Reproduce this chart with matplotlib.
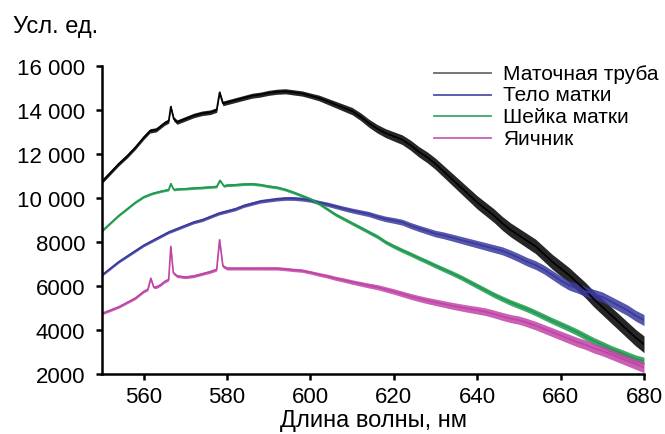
import matplotlib
matplotlib.use("Agg")
import matplotlib.pyplot as plt
import numpy as np
from matplotlib.lines import Line2D
from matplotlib.ticker import FuncFormatter

plt.rcParams['font.family'] = ['Liberation Sans', 'DejaVu Sans']

series_names = ["Маточная труба", "Тело матки", "Шейка матки", "Яичник"]
series_colors = ["#000000", "#3a3a9c", "#1f9a4f", "#c044a6"]
legend_colors = ["#6a6a6a", "#5050a8", "#3aa868", "#c860b2"]

wl_tube = [550, 552, 554, 556, 558, 560, 561.5, 563, 565, 566.0, 566.5, 567.2, 568, 570,
           572, 574, 576, 577.5, 578.2, 579, 580, 582, 584, 586, 588, 590, 592, 594,
           596, 598, 600, 602, 604, 606, 608, 610, 612, 614, 616, 618, 620, 622, 624,
           626, 628, 630, 632, 634, 636, 638, 640, 642, 644, 646, 648, 650, 652, 654,
           656, 658, 660, 662, 664, 666, 668, 670, 672, 674, 676, 678, 680]
val_tube = [10750, 11150, 11550, 11900, 12300, 12750, 13050, 13100, 13400, 13500, 14150,
            13600, 13450, 13600, 13750, 13850, 13900, 14000, 14800, 14300, 14350, 14450,
            14550, 14650, 14700, 14780, 14830, 14850, 14800, 14750, 14650, 14550, 14400,
            14250, 14100, 13950, 13700, 13400, 13150, 12950, 12800, 12650, 12400, 12100,
            11850, 11550, 11200, 10850, 10500, 10150, 9800, 9500, 9200, 8850, 8550, 8300,
            8050, 7800, 7450, 7100, 6800, 6500, 6150, 5800, 5400, 5050, 4700, 4350, 4000,
            3650, 3350]

wl_body = list(range(550, 682, 2))
val_body = [6500, 6800, 7100, 7350, 7600, 7850, 8050, 8250, 8450, 8600, 8750, 8900, 9000,
            9150, 9300, 9400, 9500, 9650, 9750, 9850, 9900, 9950, 9980, 9980, 9950, 9900,
            9800, 9720, 9620, 9520, 9430, 9350, 9270, 9150, 9050, 8980, 8900, 8750, 8620,
            8500, 8380, 8300, 8200, 8100, 8000, 7900, 7800, 7700, 7600, 7450, 7280, 7100,
            6950, 6750, 6500, 6250, 6030, 5900, 5750, 5620, 5500, 5300, 5100, 4900, 4650,
            4450]

wl_cervix = [550, 552, 554, 556, 558, 560, 562, 564, 566, 566.5, 567.2, 568, 570, 572, 574,
             576, 577.5, 578.3, 579.2, 580, 582, 584, 586, 588, 590, 592, 594, 596, 598,
             600, 602, 604, 606, 608, 610, 612, 614, 616, 618, 620, 622, 624, 626, 628,
             630, 632, 634, 636, 638, 640, 642, 644, 646, 648, 650, 652, 654, 656, 658,
             660, 662, 664, 666, 668, 670, 672, 674, 676, 678, 680]
val_cervix = [8500, 8850, 9200, 9500, 9800, 10050, 10200, 10300, 10380, 10650, 10380, 10400,
              10420, 10450, 10470, 10500, 10520, 10800, 10550, 10580, 10600, 10630, 10640,
              10600, 10530, 10480, 10380, 10250, 10100, 9950, 9750, 9500, 9250, 9050, 8850,
              8650, 8450, 8250, 8000, 7800, 7620, 7450, 7270, 7100, 6920, 6750, 6580, 6400,
              6200, 6000, 5800, 5600, 5420, 5250, 5100, 4950, 4780, 4600, 4420, 4250, 4080,
              3900, 3700, 3500, 3330, 3150, 3000, 2850, 2700, 2600]

wl_ovary = [550, 552, 554, 556, 558, 560, 561.0, 561.7, 562.4, 563, 564, 565, 566.0, 566.5,
            567.1, 568, 570, 572, 574, 576, 577.5, 578.2, 579, 580, 582, 584, 586, 588, 590,
            592, 594, 596, 598, 600, 602, 604, 606, 608, 610, 612, 614, 616, 618, 620, 622,
            624, 626, 628, 630, 632, 634, 636, 638, 640, 642, 644, 646, 648, 650, 652, 654,
            656, 658, 660, 662, 664, 666, 668, 670, 672, 674, 676, 678, 680]
val_ovary = [4750, 4900, 5050, 5250, 5450, 5750, 5850, 6350, 5950, 5950, 6050, 6200, 6300,
             7800, 6600, 6450, 6400, 6450, 6550, 6650, 6750, 8100, 6900, 6800, 6800, 6800,
             6800, 6800, 6800, 6800, 6770, 6730, 6700, 6620, 6530, 6450, 6350, 6270, 6180,
             6100, 6020, 5950, 5850, 5750, 5640, 5530, 5430, 5340, 5260, 5180, 5100, 5030,
             4960, 4900, 4830, 4730, 4620, 4520, 4450, 4330, 4200, 4050, 3900, 3750, 3600,
             3450, 3330, 3170, 3050, 2900, 2750, 2600, 2450, 2300]

# half-width of the visible noise band of each spectrum
noise_wl = [550, 600, 640, 680]
noise_tube = [90, 120, 300, 380]
noise_body = [60, 90, 170, 250]
noise_cervix = [50, 70, 120, 170]
noise_ovary = [60, 80, 170, 240]

x_ticks = [560, 580, 600, 620, 640, 660, 680]
y_ticks = [2000, 4000, 6000, 8000, 10000, 12000, 14000, 16000]
x_label = "Длина волны, нм"
y_label = "Усл. ед."

fig = plt.figure(figsize=(6.65, 4.35), dpi=100)
ax = fig.add_axes([102/665, 1 - 375/435, (644 - 102)/665, (375 - 67)/435])

data = [(wl_tube, val_tube, noise_tube), (wl_body, val_body, noise_body),
        (wl_cervix, val_cervix, noise_cervix), (wl_ovary, val_ovary, noise_ovary)]
for (wl, vals, nz), c in zip(data, series_colors):
    wl_a = np.asarray(wl, float)
    v_a = np.asarray(vals, float)
    amp = np.interp(wl_a, noise_wl, nz)
    ax.fill_between(wl_a, v_a - amp, v_a + amp, color=c, lw=0, alpha=0.85)
    ax.plot(wl_a, v_a, color=c, lw=1.2, solid_joinstyle='round')

ax.set_xlim(550, 680)
ax.set_ylim(2000, 16000)
ax.set_xticks(x_ticks)
ax.set_yticks(y_ticks)

def fmt(v, pos):
    v = int(round(v))
    if v >= 10000:
        return f"{v // 1000} {v % 1000:03d}"
    return str(v)

ax.yaxis.set_major_formatter(FuncFormatter(fmt))
for s in ["top", "right"]:
    ax.spines[s].set_visible(False)
for s in ["left", "bottom"]:
    ax.spines[s].set_linewidth(1.8)
ax.tick_params(axis='both', direction='out', length=4, width=1.8, labelsize=16, colors='black')
ax.tick_params(axis='x', pad=5)
ax.tick_params(axis='y', pad=8)
ax.set_xlabel(x_label, fontsize=17, labelpad=1)

fig.text(13/665, 1 - 33/435, y_label, fontsize=17, va='baseline', ha='left')

# legend drawn in figure pixel coordinates
leg_y = [74, 95.7, 117.4, 139.1]
for name, c, yy in zip(series_names, legend_colors, leg_y):
    fig.add_artist(Line2D([434/665, 491/665], [1 - yy/435, 1 - yy/435], color=c, lw=1.3))
    fig.text(503/665, 1 - (yy + 5.5)/435, name, fontsize=15, va='baseline', ha='left')

fig.savefig("out.png", dpi=100)
